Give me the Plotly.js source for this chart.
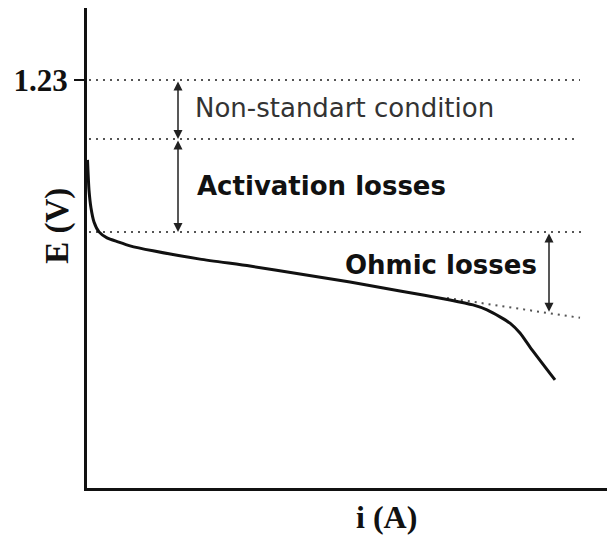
<!DOCTYPE html>
<html>
<head>
<meta charset="utf-8">
<script src="https://cdn.plot.ly/plotly-3.0.1.min.js"></script>
<style>html,body{margin:0;padding:0;background:#fff;}#chart{width:607px;height:535px;}</style>
</head>
<body>
<div id="chart"></div>
<script>
// Polarization curve (i in A, E in V)
const currentI = [0.01, 0.04, 0.08, 0.14, 0.24, 0.40, 0.62, 0.86, 1.32, 2.26, 3.26, 4.26, 5.26, 6.26, 7.26, 7.72, 8.0, 8.26, 8.46, 8.66, 8.86, 9.36];
const voltageE = [0.989, 0.898, 0.844, 0.802, 0.772, 0.754, 0.742, 0.730, 0.715, 0.690, 0.669, 0.645, 0.621, 0.594, 0.567, 0.552, 0.537, 0.516, 0.497, 0.467, 0.425, 0.326];

// Reference levels
const levelNames = ["Reversible", "Non-standard", "Activation"];
const levelE = [1.23, 1.052, 0.772];
const levelStartI = [0.04, 0.04, 0.04];
const levelEndI = [9.86, 9.80, 9.96];

// Extrapolated ohmic line
const ohmicLineI = [7.2, 9.86];
const ohmicLineE = [0.573, 0.513];

// Arrows [x, yTop, yBottom]
const arrowI = [1.82, 1.82, 9.24];
const arrowTopE = [1.23, 1.052, 0.772];
const arrowBottomE = [1.052, 0.772, 0.531];

// Labels
const labelTexts = ["Non-standart condition", "Activation losses", "Ohmic losses"];
const labelI = [2.12, 2.16, 5.12];
const labelE = [1.146, 0.910, 0.672];
const labelBold = [false, true, true];

const yTickVals = [1.23];
const yTickText = ["1.23"];
const xTitle = "i (A)";
const yTitle = "E (V)";

const dotStyle = {color: "#555", width: 2, dash: "2px,5px"};
const traces = [];
levelE.forEach((e, k) => {
  traces.push({x: [levelStartI[k], levelEndI[k]], y: [e, e], mode: "lines", name: levelNames[k],
    line: dotStyle, hoverinfo: "skip"});
});
traces.push({x: ohmicLineI, y: ohmicLineE, mode: "lines", name: "Ohmic extrapolation", line: dotStyle, hoverinfo: "skip"});
traces.push({x: currentI, y: voltageE, mode: "lines", name: "Polarization curve",
  line: {color: "#111", width: 3, shape: "spline", smoothing: 0.6}});

const annotations = [];
arrowI.forEach((xi, k) => {
  annotations.push({x: xi, y: arrowBottomE[k], ax: xi, ay: arrowTopE[k], xref: "x", yref: "y", axref: "x", ayref: "y",
    text: "", showarrow: true, arrowhead: 2, startarrowhead: 2, arrowside: "end+start", arrowsize: 1.2, startarrowsize: 1.2,
    arrowwidth: 1.5, arrowcolor: "#222", standoff: 0, startstandoff: 0});
});
labelTexts.forEach((t, k) => {
  annotations.push({x: labelI[k], y: labelE[k], xref: "x", yref: "y", text: labelBold[k] ? "<b>" + t + "</b>" : t,
    showarrow: false, xanchor: "left", yanchor: "middle",
    font: {family: "DejaVu Sans", size: 26, color: labelBold[k] ? "#111" : "#333"}});
});
annotations.push({x: 5.98, y: -0.06, xref: "x", yref: "paper", text: "<b>" + xTitle + "</b>", showarrow: false,
  xanchor: "center", yanchor: "middle", font: {family: "Liberation Serif", size: 32, color: "#111"}});
annotations.push({x: -0.056, y: 0.79, xref: "paper", yref: "y", text: "<b>" + yTitle + "</b>", showarrow: false, textangle: -90,
  xanchor: "center", yanchor: "middle", font: {family: "Liberation Serif", size: 33, color: "#111"}});

const layout = {
  width: 607, height: 535,
  margin: {l: 87, r: 0, t: 8, b: 47},
  paper_bgcolor: "#fff", plot_bgcolor: "#fff",
  showlegend: false,
  xaxis: {range: [0, 10.4], showline: true, linewidth: 3, linecolor: "#111", showgrid: false, zeroline: false,
    showticklabels: false, ticks: ""},
  yaxis: {range: [0, 1.447], showline: true, linewidth: 3, linecolor: "#111", showgrid: false, zeroline: false,
    tickvals: yTickVals, ticktext: yTickText, ticks: "outside", ticklen: 10, tickwidth: 2, tickcolor: "#111",
    tickfont: {family: "Liberation Serif", size: 31, color: "#111", weight: "bold"}},
  annotations: annotations
};
Plotly.newPlot("chart", traces, layout, {staticPlot: true, displayModeBar: false});
</script>
</body>
</html>
